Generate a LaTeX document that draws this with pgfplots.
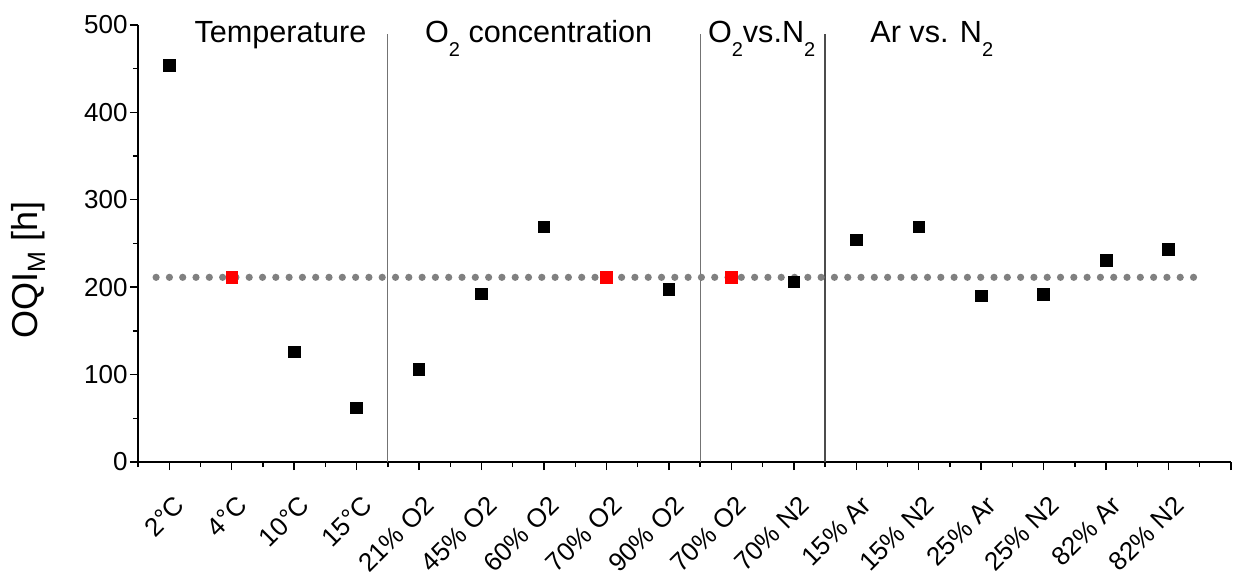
\documentclass[border=0pt]{standalone}
\usepackage{fontspec}
\setmainfont{Liberation Sans}
\usepackage{pgfplots}
\pgfplotsset{compat=1.18}
\newcommand{\sub}[1]{\raisebox{-7pt}{\fontsize{10}{10}\selectfont #1}}
\begin{document}
\begin{tikzpicture}
\begin{axis}[
 name=ax,
 scale only axis,
 width=546.5pt, height=218.5pt,
 xmin=-0.5, xmax=17, ymin=0, ymax=500,
 axis x line*=bottom, axis y line*=left,
 axis line style={line width=0.8pt, -},
 xtick={0,...,17},
 xticklabels={2°C,4°C,10°C,15°C,21\% O2,45\% O2,60\% O2,70\% O2,90\% O2,70\% O2,70\% N2,15\% Ar,15\% N2,25\% Ar,25\% N2,82\% Ar,82\% N2,{}},
 minor xtick={-0.5,0.5,...,16.5},
 ytick={0,100,...,500},
 minor ytick={50,150,...,450},
 tick align=outside,
 major tick length=4pt, minor tick length=2.5pt,
 tick style={black, line width=0.7pt},
 every tick label/.append style={font=\fontsize{13}{13}\selectfont},
 /pgf/number format/assume math mode=true,
 xticklabel style={xshift=2pt, yshift=-10.5pt, rotate=45, anchor=north east, inner sep=1pt},
 yticklabel style={inner sep=1pt},
 ylabel={OQI\raisebox{-4pt}{\fontsize{12.5}{12.5}\selectfont M} [h]},
 ylabel style={font=\fontsize{18}{18}\selectfont, at={(rel axis cs:-0.1006,0.44)}, anchor=center},
 clip=false,
]
% group separators
\addplot[black!55, line width=0.6pt, no marks] coordinates {(3.5,0) (3.5,490)};
\addplot[black!55, line width=0.6pt, no marks] coordinates {(8.5,0) (8.5,490)};
\addplot[black!70, line width=0.6pt, no marks] coordinates {(10.5,0) (10.5,490)};
% reference points (red)
\addplot[only marks, mark=square*, mark size=2.8pt, mark options={draw=red, fill=red}]
 coordinates {(1,211.3) (7,211.3) (9,211.3)};
% measured points
\addplot[only marks, mark=square*, mark size=2.9pt, mark options={draw=black, fill=black}]
 coordinates {
 (0,454) (2,126) (3,62)
 (4,106) (5,192.5) (6,269) (8,197.6)
 (10,206)
 (11,254) (12,269) (13,190) (14,192) (15,231) (16,243)
 };
% dotted reference line
\addplot[color=gray, line width=3.6pt, line cap=round, dash pattern=on 0pt off 6.65pt, no marks]
 coordinates {(-0.21,211.3) (16.5,211.3)};
% group titles
\node[anchor=base west, inner sep=0pt, font=\fontsize{15.3}{15.3}\selectfont] at (axis cs:0.4,480.5) {Temperature};
\node[anchor=base west, inner sep=0pt, font=\fontsize{15.3}{15.3}\selectfont] at (axis cs:4.09,480.5) {O\sub{2} concentration};
\node[anchor=base west, inner sep=0pt, font=\fontsize{15.3}{15.3}\selectfont] at (axis cs:8.62,480.5) {O\sub{2}vs.N\sub{2}};
\node[anchor=base west, inner sep=0pt, font=\fontsize{15.3}{15.3}\selectfont] at (axis cs:11.22,480.5) {Ar vs. N\sub{2}};
\end{axis}
\pgfresetboundingbox
\path ([xshift=-69pt,yshift=-57.5pt]ax.south west) rectangle ([xshift=1.5pt,yshift=12.5pt]ax.north east);
\end{tikzpicture}
\end{document}
